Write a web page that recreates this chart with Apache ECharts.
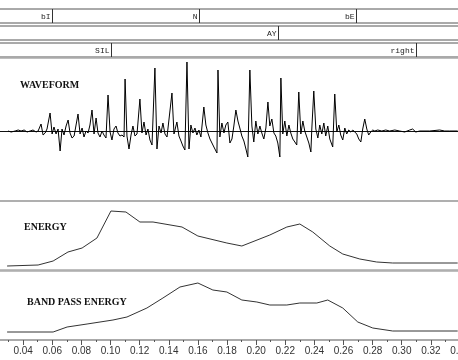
<!DOCTYPE html>
<html lang="en">
<head>
  <meta charset="UTF-8">
  <title>Speech waveform</title>
  <style>
    html, body { margin: 0; padding: 0; background: #fff; }
    #chart { width: 458px; height: 360px; }
  </style>
  <script src="https://cdn.jsdelivr.net/npm/echarts@6/dist/echarts.min.js"></script>
</head>
<body>
  <div id="chart"></div>
  <script>
    // segment tiers: label + end time (s)
    var tier1Labels = ['bI', 'N', 'bE'];
    var tier1Ends = [0.0599, 0.1608, 0.2686];
    var tier2Labels = ['AY'];
    var tier2Ends = [0.2150];
    var tier3Labels = ['SIL', 'right'];
    var tier3Ends = [0.1004, 0.3097];

    // waveform (time s, amplitude)
    var waveTime = [
      .0297, .0318, .0331, .0345, .0366, .0386, .0407, .0427, .0448, .0468, .0489, .0503,
      .0523, .0537, .0551, .0564, .0585, .0599, .0612, .0626, .0640, .0654, .0667,
      .0681, .0695, .0709, .0722, .0736, .0750, .0763, .0777, .0791, .0805, .0818,
      .0832, .0846, .0859, .0873, .0887, .0901, .0914, .0928, .0942, .0955, .0969,
      .0983, .0997, .1010, .1024, .1038, .1051, .1065, .1079, .1093, .1100, .1113,
      .1127, .1141, .1154, .1168, .1182, .1202, .1216, .1230, .1244, .1257,
      .1271, .1285, .1298, .1305, .1319, .1333, .1347, .1360, .1374, .1388, .1401,
      .1422, .1436, .1456, .1470, .1484, .1497, .1511, .1525, .1539, .1552, .1566,
      .1580, .1593, .1607, .1621, .1641, .1655, .1669, .1683, .1696, .1710, .1731,
      .1738, .1751, .1765, .1779, .1792, .1806, .1820, .1834, .1847, .1861, .1875,
      .1888, .1902, .1916, .1930, .1943, .1957, .1971, .1984, .1998, .2012, .2026,
      .2039, .2053, .2067, .2081, .2094, .2108, .2122, .2135, .2149, .2163, .2170,
      .2183, .2197, .2211, .2225, .2238, .2252, .2266, .2279, .2293, .2307, .2321,
      .2334, .2348, .2362, .2376, .2382, .2396, .2410, .2424, .2437, .2451, .2465,
      .2478, .2492, .2506, .2526, .2540, .2554, .2568, .2581, .2595, .2609,
      .2622, .2636, .2650, .2664, .2677, .2691, .2705, .2719, .2732, .2746, .2760,
      .2773, .2787, .2801, .2815, .2835, .2863, .2890, .2917, .2952, .2986, .3020,
      .3055, .3075, .3096, .3123, .3192, .3260, .3295, .3329, .3384
    ];
    var waveAmp = [
      0, -1, -3, 0, 1, 0, 1, -1, 0, 1, -1, 0,
      7, -4, -2, 2, 18, -3, 4, -3, 2, -20, 2,
      -4, 5, 11, -2, -7, -5, -4, 17, -3, 3, -6,
      0, -2, 6, 21, -3, 13, -2, -6, 0, -4, -7,
      36, -1, -9, 2, 5, -2, -5, -4, -6, 52, -5,
      -18, -4, 5, -5, -3, 32, -2, 9, -4, 2,
      -9, -14, -12, 63, -18, 5, -2, 8, -3, -6, -4,
      38, -3, 9, -5, -10, -15, -19, 69, -18, 6, -2,
      3, -4, 1, -6, 24, 6, -2, -8, -10, -16, -22,
      61, -6, 8, -2, 6, 9, -12, -8, 5, 21, 10,
      3, -5, -10, -18, -26, 61, 5, -11, 10, -3, 5,
      -2, -8, 3, 29, 5, 12, -2, -5, -12, -26, 53,
      -3, 10, -5, 6, -2, -8, -11, -14, 39, -3, 10,
      0, -6, -12, -21, 1, 40, 2, -7, 6, -3, 8,
      -5, 5, -8, -16, 37, -1, 6, -4, -9, 3,
      -3, 1, -1, 1, 0, -3, -8, -11, 2, 12, 2,
      -4, -1, 1, 0, 1, 0, 1, 0, 1, 0, -1,
      1, 2, -1, 0, 0, 1, 0, 0, 0
    ];

    // energy contour
    var energyTime = [0.0290, 0.0503, 0.0606, 0.0708, 0.0805, 0.0907, 0.1003, 0.1106, 0.1202, 0.1292,
      0.1491, 0.1600, 0.1799, 0.1902, 0.2094, 0.2211, 0.2300, 0.2389, 0.2506, 0.2595, 0.2712, 0.2828, 0.2938, 0.3384];
    var energyVal = [4, 5, 9, 18, 22, 32, 59, 58, 48, 48, 43, 34, 27, 24, 35, 43, 46, 38, 24, 16, 11, 8, 7, 7];

    // band pass energy contour
    var bandTime = [0.0290, 0.0606, 0.0702, 0.0839, 0.1017, 0.1113, 0.1250, 0.1360, 0.1477, 0.1600,
      0.1703, 0.1799, 0.1902, 0.2005, 0.2094, 0.2211, 0.2300, 0.2417, 0.2492, 0.2595, 0.2698, 0.2801, 0.2938, 0.3384];
    var bandVal = [8, 8, 13, 16, 20, 23, 32, 42, 53, 57, 50, 48, 40, 38, 35, 35, 37, 37, 40, 32, 18, 12, 9, 9];

    function pairs(ts, vs) {
      return ts.map(function (t, i) { return [t, vs[i]]; });
    }

    function tierRender(labels) {
      return function (params, api) {
        var x = Math.round(api.coord([api.value(0), 0])[0]) + 0.5;
        var cs = params.coordSys;
        return {
          type: 'group',
          children: [
            { type: 'line', shape: { x1: x, y1: cs.y, x2: x, y2: cs.y + cs.height },
              style: { stroke: '#333', lineWidth: 1 } },
            { type: 'text', x: x - 2, y: cs.y + cs.height / 2 + 0.5,
              style: { text: labels[params.dataIndex], align: 'right', verticalAlign: 'middle',
                font: '8px "Liberation Mono", monospace', fill: '#222' } }
          ]
        };
      };
    }

    var gridLeft = -6, gridWidth = 466;
    var grids = [
      { top: 9, height: 14, border: '#555', bw: 1 },
      { top: 26, height: 14, border: '#555', bw: 1 },
      { top: 43, height: 14, border: '#555', bw: 1 },
      { top: 58, height: 143, border: '#aaa', bw: 1.5 },
      { top: 201, height: 69, border: '#aaa', bw: 1.5 },
      { top: 271, height: 69, border: '#aaa', bw: 1.5 }
    ];

    var myChart = echarts.init(document.getElementById('chart'));
    var option = {
      animation: false,
      title: [
        { text: 'WAVEFORM', left: 20, top: 80 },
        { text: 'ENERGY', left: 24, top: 222 },
        { text: 'BAND PASS ENERGY', left: 27, top: 297 }
      ].map(function (t) {
        t.padding = 0;
        t.textStyle = { fontFamily: '"Liberation Serif", serif', fontWeight: 'bold', fontSize: 10, color: '#111' };
        return t;
      }),
      grid: grids.map(function (g) {
        return { left: gridLeft, width: gridWidth, top: g.top, height: g.height,
          outerBoundsMode: 'none', containLabel: false,
          show: true, borderColor: g.border, borderWidth: g.bw, backgroundColor: 'transparent' };
      }),
      xAxis: grids.map(function (g, i) {
        var ax = { type: 'value', gridIndex: i, min: 0.02, max: 0.34, interval: 0.02,
          axisLabel: { show: false }, axisTick: { show: false }, splitLine: { show: false },
          axisLine: { show: false } };
        if (i === 3) {
          ax.axisLine = { show: true, onZero: true, lineStyle: { color: '#111', width: 1 } };
        }
        if (i === 5) {
          ax.axisLine = { show: true, lineStyle: { color: '#aaa', width: 2 } };
          ax.axisTick = { show: true, length: 5, lineStyle: { color: '#555' } };
          ax.minorTick = { show: true, splitNumber: 2, length: 2, lineStyle: { color: '#555' } };
          ax.axisLabel = { show: true, margin: 6, fontSize: 10, color: '#333',
            fontFamily: '"Liberation Sans", Arial, sans-serif',
            showMinLabel: false, showMaxLabel: true, hideOverlap: false,
            formatter: function (v) { return v.toFixed(2); } };
        }
        return ax;
      }),
      yAxis: grids.map(function (g, i) {
        var ax = { type: 'value', gridIndex: i, show: false, min: 0, max: 1 };
        if (i === 3) { ax.min = -70; ax.max = 73; }
        if (i === 4 || i === 5) { ax.min = 0; ax.max = 69; }
        return ax;
      }),
      series: [
        { type: 'custom', xAxisIndex: 0, yAxisIndex: 0, renderItem: tierRender(tier1Labels),
          data: tier1Ends.map(function (t) { return [t, 0]; }) },
        { type: 'custom', xAxisIndex: 1, yAxisIndex: 1, renderItem: tierRender(tier2Labels),
          data: tier2Ends.map(function (t) { return [t, 0]; }) },
        { type: 'custom', xAxisIndex: 2, yAxisIndex: 2, renderItem: tierRender(tier3Labels),
          data: tier3Ends.map(function (t) { return [t, 0]; }) },
        { type: 'line', xAxisIndex: 3, yAxisIndex: 3, data: pairs(waveTime, waveAmp),
          showSymbol: false, lineStyle: { color: '#000', width: 1 } },
        { type: 'line', xAxisIndex: 4, yAxisIndex: 4, data: pairs(energyTime, energyVal),
          showSymbol: false, lineStyle: { color: '#333', width: 1 } },
        { type: 'line', xAxisIndex: 5, yAxisIndex: 5, data: pairs(bandTime, bandVal),
          showSymbol: false, lineStyle: { color: '#333', width: 1 } }
      ]
    };
    myChart.setOption(option);
  </script>
</body>
</html>
